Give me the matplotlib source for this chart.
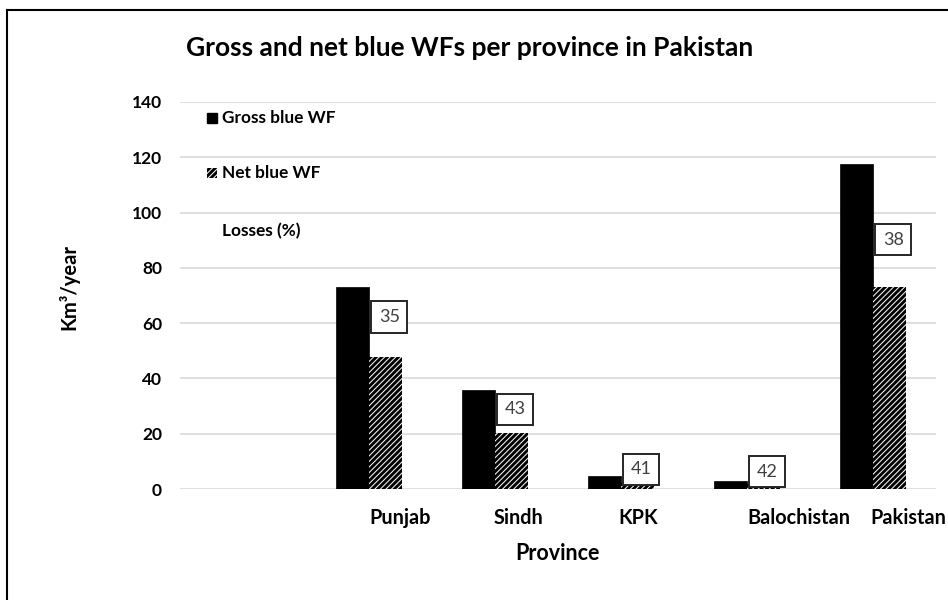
import matplotlib
matplotlib.use("Agg")
import matplotlib.pyplot as plt
from matplotlib.patches import Rectangle
from matplotlib.lines import Line2D
import numpy as np

# ---- data ----
categories = ["", "Punjab", "Sindh", "KPK", "Balochistan", "Pakistan"]
gross_blue_wf = [0, 73.2, 35.8, 4.6, 3.0, 117.5]
net_blue_wf = [0, 47.6, 20.4, 2.7, 1.7, 72.9]
losses_pct = [None, 35, 43, 41, 42, 38]
y_ticks = [0, 20, 40, 60, 80, 100, 120, 140]

# ---- style / placement ----
label_x_offsets = [0, 0.25, 0.19, 0.14, 0.41, 0.28]   # category label shifts (category units)
loss_label_dy = [0, 14.6, 8.5, 4.5, 4.6, 17.3]        # loss box above net bar top
FONT = ["Lato", "DejaVu Sans"]
plt.rcParams["font.family"] = FONT
plt.rcParams["hatch.linewidth"] = 2.1

fig = plt.figure(figsize=(9.48, 6.0), dpi=100)
ax = fig.add_axes([180 / 948, 1 - 489 / 600, (936 - 180) / 948, (489 - 102) / 600])

x = np.arange(len(categories))
w = 0.262
ax.bar(x - w / 2, gross_blue_wf, width=w, color="black", edgecolor="black", linewidth=0.5, zorder=3)
ax.bar(x + w / 2, net_blue_wf, width=w, color="white", edgecolor="black", hatch="//////",
       linewidth=0, zorder=3)

ax.set_xlim(-0.5, len(categories) - 0.5)
ax.set_ylim(0, 140)
ax.set_yticks(y_ticks)
ax.set_yticklabels([str(t) for t in y_ticks], fontsize=12.5, fontweight="bold")
ax.tick_params(axis="y", length=0, pad=13)
ax.set_xticks([])
ax.grid(axis="y", color="#d9d9d9", linewidth=1.2, zorder=0)
for s in ax.spines.values():
    s.set_visible(False)

# category labels
for i, c in enumerate(categories):
    if c:
        ax.text(i + label_x_offsets[i], -10.5, c, ha="center", va="center",
                fontsize=14.3, fontweight="bold")

# loss labels
for i, l in enumerate(losses_pct):
    if l is None:
        continue
    ax.text(i + w / 2 + 0.03, net_blue_wf[i] + loss_label_dy[i], str(l), ha="center", va="center",
            fontsize=13, color="#404040", zorder=5,
            bbox=dict(boxstyle="square,pad=0.42", fc="white", ec="#262626", lw=1.4))

# legend (manual)
ax.add_patch(Rectangle((207 / 948, 1 - 123 / 600), 10 / 948, 10 / 600, transform=fig.transFigure,
                       facecolor="black", edgecolor="black", clip_on=False))
ax.add_patch(Rectangle((207 / 948, 1 - 178 / 600), 10 / 948, 10 / 600, transform=fig.transFigure,
                       facecolor="white", edgecolor="black", hatch="//////", linewidth=0, clip_on=False))
fig.text(222 / 948, 1 - 118 / 600, "Gross blue WF", ha="left", va="center", fontsize=12.4, fontweight="bold")
fig.text(222 / 948, 1 - 173 / 600, "Net blue WF", ha="left", va="center", fontsize=12.4, fontweight="bold")
fig.text(222 / 948, 1 - 231 / 600, "Losses (%)", ha="left", va="center", fontsize=12.4, fontweight="bold")

# titles
fig.text(470 / 948, 1 - 48 / 600, "Gross and net blue WFs per province in Pakistan", ha="center",
         va="center", fontsize=19, fontweight="bold")
fig.text(557 / 948, 1 - 553 / 600, "Province", ha="center", va="center", fontsize=15.5, fontweight="bold")
fig.text(69 / 948, 1 - 287 / 600, "Km³/year", ha="center", va="center", rotation=90,
         fontsize=14.5, fontweight="bold")

# chart border (left and top visible)
fig.add_artist(Line2D([7 / 948, 7 / 948], [0, 1 - 10 / 600], transform=fig.transFigure, color="black", lw=1.5))
fig.add_artist(Line2D([7 / 948, 1], [1 - 10 / 600, 1 - 10 / 600], transform=fig.transFigure, color="black", lw=1.5))

fig.savefig("out.png", dpi=100)
